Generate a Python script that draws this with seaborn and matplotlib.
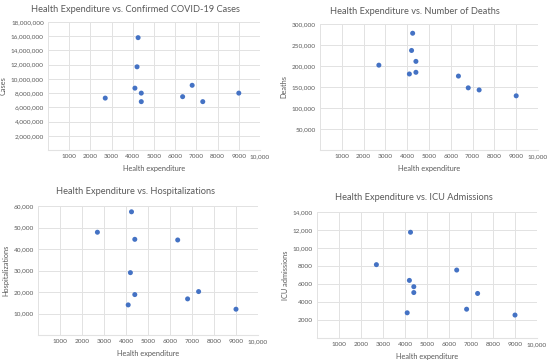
import numpy as np
import pandas as pd
import matplotlib
matplotlib.use("Agg")
import matplotlib.pyplot as plt
import seaborn as sns

# Health expenditure per country (same for all four panels)
expenditure = [2700, 4100, 4200, 4250, 4400, 4400, 6350, 6800, 7300, 9000]
cases = [7300000, 8700000, 11700000, 15800000, 8000000, 6800000, 7500000, 9100000, 6800000, 8000000]
deaths = [202000, 181000, 237000, 278000, 211000, 185000, 176000, 148000, 143000, 129000]
hospitalizations = [47800, 14000, 29000, 57300, 44500, 18800, 44200, 16800, 20200, 12000]
icu = [8150, 2800, 6400, 11750, 5700, 5050, 7550, 3200, 4950, 2550]

x_ticks = [1000, 2000, 3000, 4000, 5000, 6000, 7000, 8000, 9000, 10000]
x_ticklabels = ["1000", "2000", "3000", "4000", "5000", "6000", "7000", "8000", "9000", "10,000"]

sns.set_style("white")
plt.rcParams['font.family'] = ['Lato', 'DejaVu Sans']

grey = "#595959"
blue = "#4472C4"
gridc = "#e2e2e2"

fig = plt.figure(figsize=(5.5, 3.62), dpi=100)
W, H = 550, 362


def panel(rect, title, title_xy, yvals, ylabel, ymax, ystep, ytick_fmt):
    left, top, right, bottom = rect
    ax = fig.add_axes([left / W, 1 - bottom / H, (right - left) / W, (bottom - top) / H])
    df = pd.DataFrame({"exp": expenditure, "val": yvals})
    sns.scatterplot(data=df, x="exp", y="val", ax=ax, color=blue, s=13,
                    edgecolor="none", zorder=3)
    ax.set_xlim(0, 10000)
    ax.set_ylim(0, ymax)
    ax.set_xticks(x_ticks)
    ax.set_xticklabels(x_ticklabels)
    yt = list(range(ystep, ymax + 1, ystep))
    ax.set_yticks(yt)
    ax.set_yticklabels([ytick_fmt(v) for v in yt])
    ax.set_xticks([0], minor=True)
    ax.set_yticks([0], minor=True)
    ax.grid(True, which="both", color=gridc, linewidth=0.7)
    ax.tick_params(axis="both", which="both", length=0, labelsize=4.6,
                   labelcolor=grey, pad=3)
    for side in ["top", "right", "left"]:
        ax.spines[side].set_visible(False)
    ax.spines["bottom"].set_color(gridc)
    ax.set_xlabel("Health expenditure", fontsize=5.3, color=grey, labelpad=4)
    ax.set_ylabel(ylabel, fontsize=5.3, color=grey, labelpad=3)
    fig.text(title_xy[0] / W, 1 - title_xy[1] / H, title, ha="center", va="center",
             fontsize=6.7, color=grey)
    return ax


def comma(v):
    return f"{v:,}"


def icu_fmt(v):
    return f"{v:,}" if v >= 10000 else str(v)


panel((48, 22, 260, 150), "Health Expenditure vs. Confirmed COVID-19 Cases", (135, 9),
      cases, "Cases", 18000000, 2000000, comma)
panel((320, 24, 538, 150), "Health Expenditure vs. Number of Deaths", (415, 11),
      deaths, "Deaths", 300000, 50000, comma)
panel((38, 206, 258, 335), "Health Expenditure vs. Hospitalizations", (135, 192),
      hospitalizations, "Hospitalizations", 60000, 10000, comma)
panel((317, 212, 537, 338), "Health Expenditure vs. ICU Admissions", (414, 197),
      icu, "ICU admissions", 14000, 2000, icu_fmt)

fig.savefig("out.png", dpi=100)
